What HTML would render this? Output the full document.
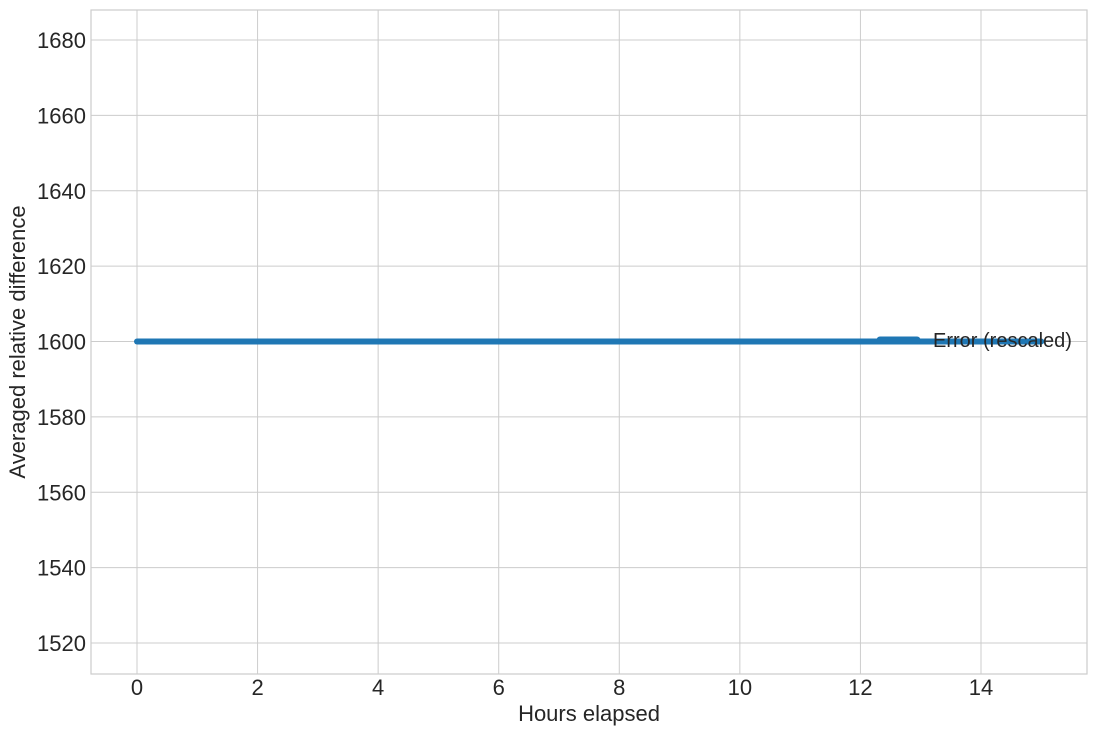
<!DOCTYPE html>
<html><head><meta charset="utf-8"><style>
html,body{margin:0;padding:0;background:#fff;}
svg text{font-family:"Liberation Sans",sans-serif;fill:#262626;}
</style></head><body>
<svg id="chart" width="1097" height="736" xmlns="http://www.w3.org/2000/svg">
<g id="grid"></g>
<rect x="91" y="10" width="996" height="664" fill="none" stroke="#cccccc" stroke-width="1.2"/>
<g id="ticks"></g>
<g id="series"></g>
<text x="589" y="721" font-size="22" text-anchor="middle">Hours elapsed</text>
<text transform="translate(25,342) rotate(-90)" font-size="22" text-anchor="middle">Averaged relative difference</text>
<g>
<line x1="880" y1="340" x2="917" y2="340" stroke="#1f77b4" stroke-width="7" stroke-linecap="round"/>
<text x="933" y="347" font-size="20">Error (rescaled)</text>
</g>
</svg>
<script>
const xTicks = [0,2,4,6,8,10,12,14];
const yTicks = [1520,1540,1560,1580,1600,1620,1640,1660,1680];
const hours = [0,1,2,3,4,5,6,7,8,9,10,11,12,13,14,15];
const errorValues = [1600,1600,1600,1600,1600,1600,1600,1600,1600,1600,1600,1600,1600,1600,1600,1600];
const NS="http://www.w3.org/2000/svg";
function xs(v){return 137+(v-0)*(981-137)/14;}
function ys(v){return 643-(v-1520)*(643-40)/160;}
const grid=document.getElementById('grid'), ticks=document.getElementById('ticks'), series=document.getElementById('series');
function mk(tag,attrs,parent){const e=document.createElementNS(NS,tag);for(const k in attrs)e.setAttribute(k,attrs[k]);parent.appendChild(e);return e;}
xTicks.forEach(t=>{
  const l=mk('line',{x1:xs(t),x2:xs(t),y1:10,y2:674,stroke:'#cccccc','stroke-width':1},grid);
  
  
  const tx=mk('text',{x:xs(t),y:695,'font-size':22,'text-anchor':'middle'},ticks);
  tx.textContent=t;
  
  
});
yTicks.forEach(t=>{
  const l=mk('line',{x1:91,x2:1087,y1:ys(t),y2:ys(t),stroke:'#cccccc','stroke-width':1},grid);
  
  
  const tx=mk('text',{x:86,y:ys(t)+8,'font-size':22,'text-anchor':'end'},ticks);
  tx.textContent=t;
  
  
});
const pts=hours.map((h,i)=>xs(h)+','+ys(errorValues[i])).join(' ');
const pl=mk('polyline',{points:pts,fill:'none',stroke:'#1f77b4','stroke-width':6,'stroke-linecap':'round','stroke-linejoin':'round'},series);


</script>
</body></html>
